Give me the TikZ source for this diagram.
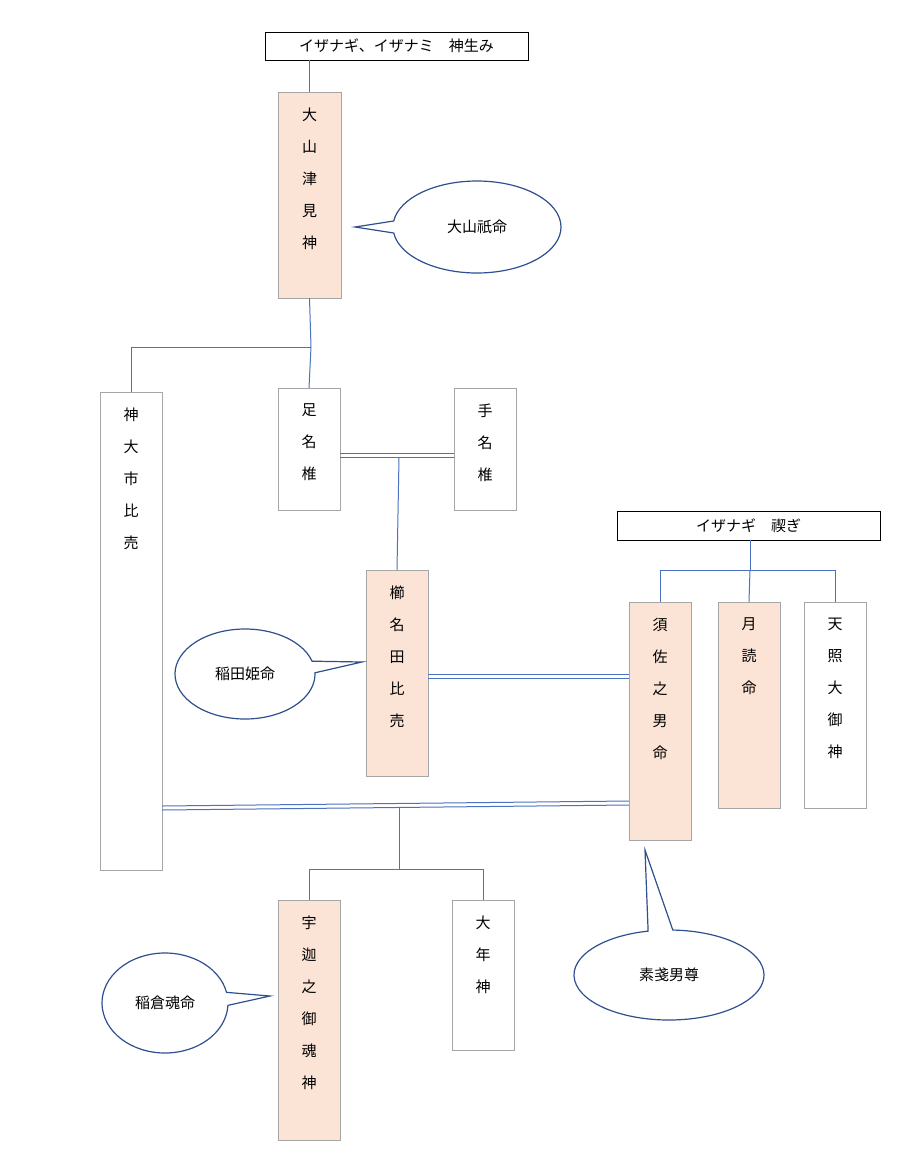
\documentclass[tikz,border=0pt]{standalone}
\usepackage{fontspec}
\setmainfont{Noto Sans CJK JP}
\usetikzlibrary{shapes.callouts}

\tikzset{
    box/.style={draw=black!35, rectangle, inner sep=0pt},
    kami/.style={box, fill=peach},
    head/.style={draw=black, rectangle, inner sep=0pt, font=\fontsize{15}{17}\selectfont},
    tate/.style={anchor=north, align=center, inner sep=0pt, font=\fontsize{15}{32}\selectfont},
    link/.style={draw=lineblue, line width=1pt},
    talk/.style={ellipse callout, draw=calloutblue, line width=1.2pt, fill=white, font=\fontsize{15}{17}\selectfont},
}
\definecolor{peach}{HTML}{FBE3D6}
\definecolor{lineblue}{HTML}{4A72BF}
\definecolor{calloutblue}{HTML}{2F4F8F}

\begin{document}
\begin{tikzpicture}[x=1pt, y=-1pt]
\useasboundingbox (0,0) rectangle (911,1171);

% top rows
\node[head, minimum width=263, minimum height=28] (umi) at (396.5,46) {イザナギ、イザナミ　神生み};
\node[head, minimum width=263, minimum height=29] (misogi) at (748.5,525.5) {イザナギ　禊ぎ};

% gods
\node[kami, minimum width=63, minimum height=206] (ooyama) at (309.5,195) {};
\node[box, minimum width=62, minimum height=478] (kamuo) at (131,631) {};
\node[box, minimum width=62, minimum height=122] (ashi) at (309,449) {};
\node[box, minimum width=62, minimum height=122] (te) at (485,449) {};
\node[kami, minimum width=62, minimum height=206] (kushi) at (397,673) {};
\node[kami, minimum width=62, minimum height=238] (susa) at (660,721) {};
\node[kami, minimum width=62, minimum height=206] (tsuku) at (749,705) {};
\node[box, minimum width=62, minimum height=206] (ama) at (835,705) {};
\node[kami, minimum width=62, minimum height=240] (uka) at (309,1020) {};
\node[box, minimum width=62, minimum height=150] (otoshi) at (483,975) {};

% names
\node[tate] (t1) at ([yshift=-16]ooyama.north) {大\\山\\津\\見\\神};
\node[tate] (t2) at ([yshift=-16]kamuo.north) {神\\大\\市\\比\\売};
\node[tate] (t3) at ([yshift=-16]ashi.north) {足\\名\\椎};
\node[tate] (t4) at ([yshift=-16]te.north) {手\\名\\椎};
\node[tate] (t5) at ([yshift=-16]kushi.north) {櫛\\名\\田\\比\\売};
\node[tate] (t6) at ([yshift=-16]susa.north) {須\\佐\\之\\男\\命};
\node[tate] (t7) at ([yshift=-16]tsuku.north) {月\\読\\命};
\node[tate] (t8) at ([yshift=-16]ama.north) {天\\照\\大\\御\\神};
\node[tate] (t9) at ([yshift=-16]uka.north) {宇\\迦\\之\\御\\魂\\神};
\node[tate] (t10) at ([yshift=-16]otoshi.north) {大\\年\\神};

% callouts
\node[talk, minimum width=168, minimum height=92, callout absolute pointer={(355,227)}] (c1) at (477,227) {大山祇命};
\node[talk, minimum width=140, minimum height=90, callout absolute pointer={(362,662)}] (c2) at (245,674) {稲田姫命};
\node[talk, minimum width=126, minimum height=100, callout absolute pointer={(270,996)}] (c3) at (165,1003) {稲倉魂命};
\node[talk, minimum width=190, minimum height=90, callout absolute pointer={(645,850)}] (c4) at (669,975) {素戔男尊};

% lines
\coordinate (j1) at (311,347);
\coordinate (j2) at (399,457);
\coordinate (j3) at (750,570);
\coordinate (j4) at (399,808);
\coordinate (j5) at (399,869);
\draw[link] (umi.south -| ooyama) -- (ooyama.north);
\draw[link] (ooyama.south) -- (j1);
\draw[link] (j1) -- (j1 -| kamuo) -- (kamuo.north);
\draw[link] (j1) -- (ashi.north);
\draw[link] (ashi.east |- 0,453) -- (te.west |- 0,453);
\draw[link] (ashi.east |- 0,457) -- (te.west |- 0,457);
\draw[link] (j2) -- (kushi.north);
\draw[link] (kushi.east |- 0,674) -- (susa.west |- 0,674);
\draw[link] (kushi.east |- 0,678) -- (susa.west |- 0,678);
\draw[link] (misogi.south -| j3) -- (j3);
\draw[link] (j3 -| susa) -- (j3 -| ama);
\draw[link] (j3 -| susa) -- (susa.north);
\draw[link] (j3) -- (tsuku.north);
\draw[link] (j3 -| ama) -- (ama.north);
\draw[link] (kamuo.east |- 0,806) -- (susa.west |- 0,801);
\draw[link] (kamuo.east |- 0,810) -- (susa.west |- 0,805);
\draw[link] (j4) -- (j5);
\draw[link] (j5 -| uka) -- (j5 -| otoshi);
\draw[link] (j5 -| uka) -- (uka.north);
\draw[link] (j5 -| otoshi) -- (otoshi.north);
\end{tikzpicture}
\end{document}
